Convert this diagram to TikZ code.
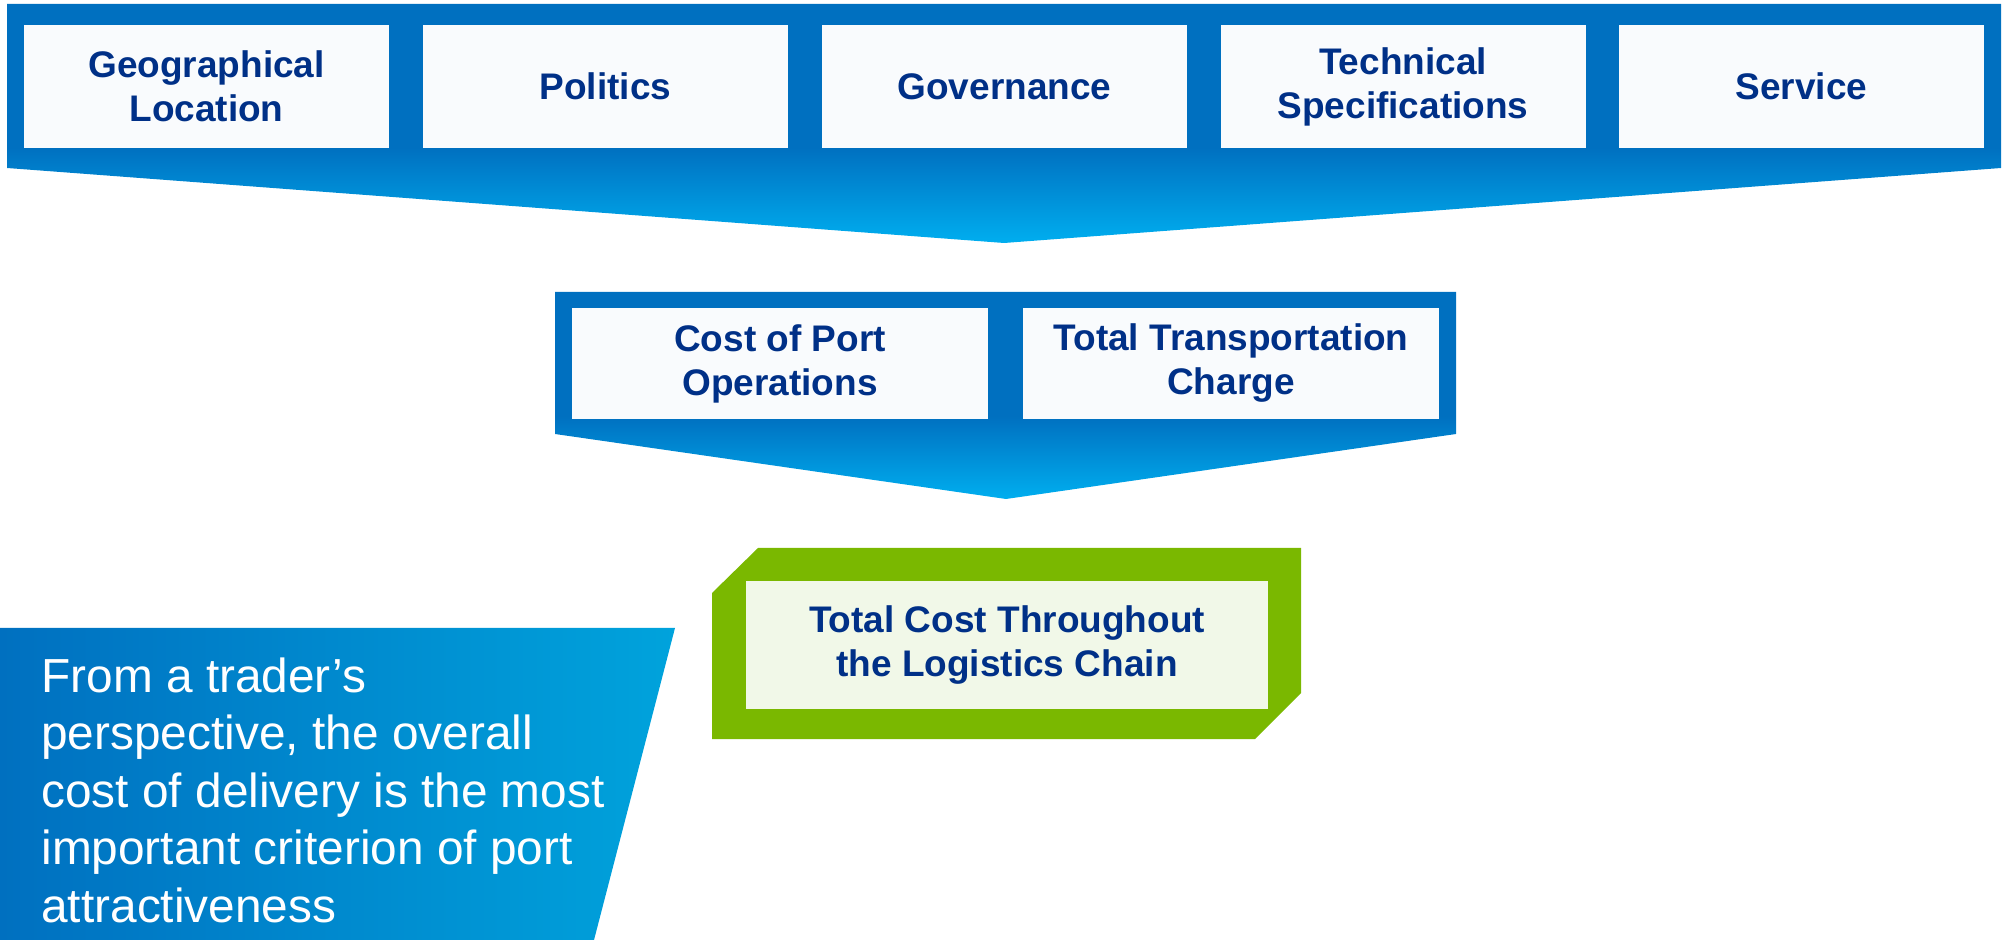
\documentclass[tikz,border=0pt]{standalone}
\usepackage{fontspec}
\setmainfont{Liberation Sans}
\definecolor{blueA}{HTML}{0070C0}
\definecolor{blueB}{HTML}{00AEEF}
\definecolor{boxfill}{HTML}{F9FBFD}
\definecolor{navy}{HTML}{003087}
\definecolor{greenA}{HTML}{7AB800}
\definecolor{greenfill}{HTML}{F1F8E8}
\definecolor{panelR}{HTML}{00A3DC}
\pgfdeclareverticalshading{bannershade}{100bp}{color(0bp)=(blueB); color(25bp)=(blueB); color(45bp)=(blueA); color(100bp)=(blueA)}
\begin{document}
\begin{tikzpicture}[x=0.5pt,y=-0.5pt,
  factor/.style={fill=boxfill, minimum width=182.5pt, minimum height=61.5pt, inner sep=0pt,
    text=navy, align=center, font=\bfseries\fontsize{18.5}{22}\selectfont},
  costbox/.style={factor, minimum width=208pt, minimum height=55.5pt},
  totalbox/.style={factor, fill=greenfill, minimum width=261pt, minimum height=64pt},
  banner/.style={shading=bannershade}]
\useasboundingbox (0,0) rectangle (2008,940);
% top banner
\shade[banner]
  (7,4) -- (2001,4) -- (2001,168) -- (1004,243) -- (7,168) -- cycle;
\node[factor] (geo) at (206.5,86.5) {Geographical\\Location};
\node[factor] (pol) at (605.5,86.5) {Politics};
\node[factor] (gov) at (1004.5,86.5) {Governance};
\node[factor] (tech) at (1403,86.5) {Technical\\Specifications};
\node[factor] (serv) at (1801.5,86.5) {Service};
% middle banner
\shade[banner]
  (555,292) -- (1456,292) -- (1456,434) -- (1006,499) -- (555,434) -- cycle;
\node[costbox] (port) at (780,363.5) {Cost of Port\\Operations};
\node[costbox] (trans) at (1231,363.5) {Total Transportation\\Charge};
% green box
\fill[greenA] (758,548) -- (1301,548) -- (1301,693) -- (1255,739) -- (712,739) -- (712,593) -- cycle;
\node[totalbox] (total) at (1007,645) {Total Cost Throughout\\the Logistics Chain};
% bottom-left panel
\shade[left color=blueA, right color=panelR]
  (0,628) -- (675,628) -- (594,940) -- (0,940) -- cycle;
\node[anchor=base west, inner sep=0pt, text=white, align=left,
  font=\fontsize{23.9}{28.7}\selectfont] (note) at (41,922)
  {From a trader’s\\perspective, the overall\\cost of delivery is the most\\important criterion of port\\attractiveness};
\end{tikzpicture}
\end{document}
